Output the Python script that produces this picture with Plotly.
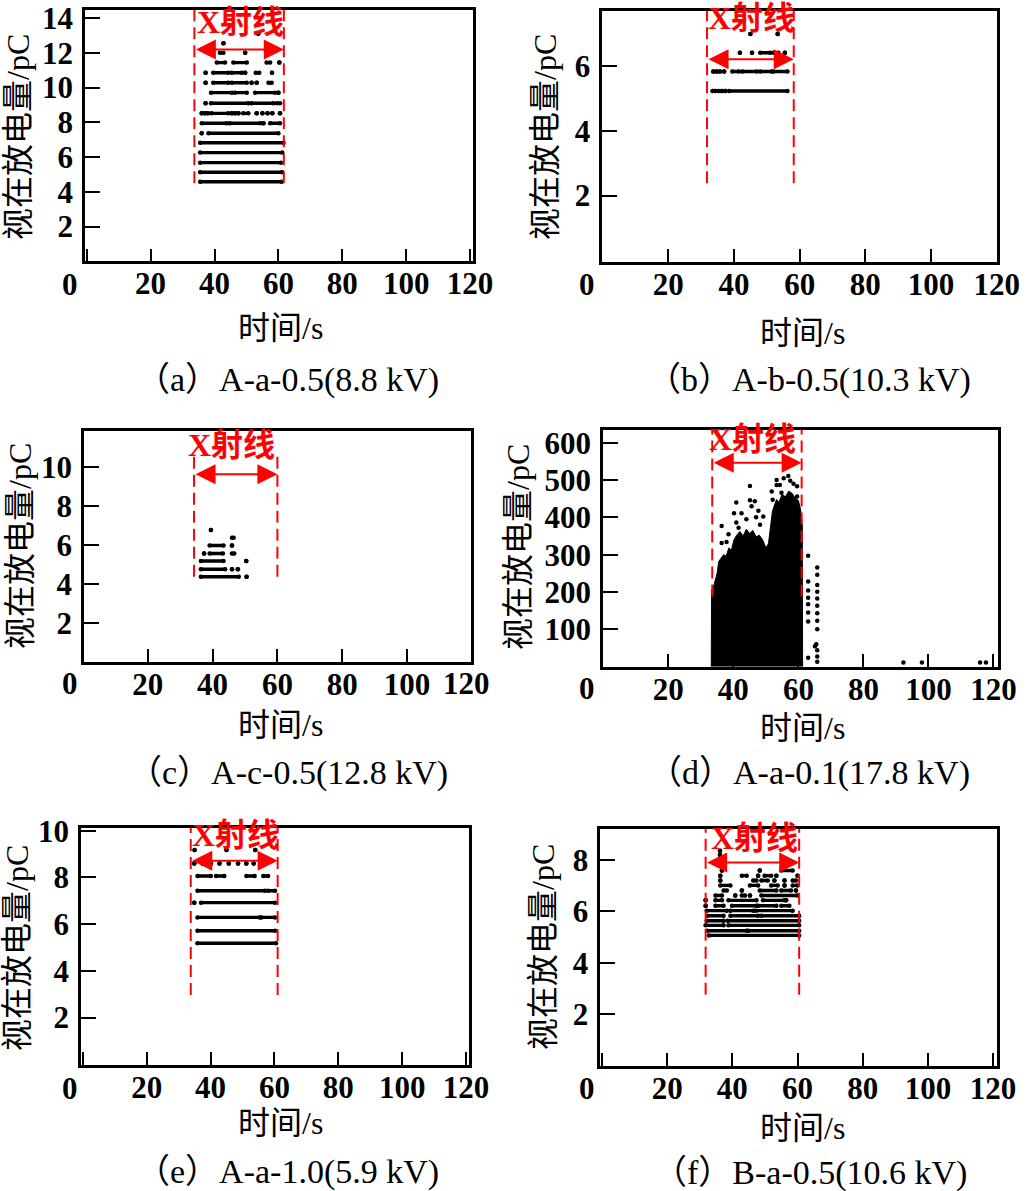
import plotly.graph_objects as go

W, H = 1031, 1191

# ---------------- data ----------------
x_ticks = [0, 20, 40, 60, 80, 100, 120]
x_tick_labels = ["", "20", "40", "60", "80", "100", "120"]

# (a) A-a-0.5(8.8 kV): discharge levels (pC) and time spans (s) at each level
a_levels = [4.58, 5.13, 5.68, 6.26, 6.83, 7.37, 7.95, 8.52, 9.10, 9.71, 10.28, 10.86, 11.44, 12.01, 12.55, 13.10]
a_spans = [
    [[35.5, 61.0]],
    [[35.5, 61.2]],
    [[35.5, 60.8]],
    [[35.5, 61.2]],
    [[35.5, 61.6]],
    [[36.0, 36.0], [38.1, 60.0]],
    [[36.0, 43.8], [44.8, 54.3], [55.3, 55.3], [57.4, 60.5]],
    [[36.0, 36.0], [37.0, 37.0], [37.9, 37.9], [39.1, 44.3], [45.4, 45.4], [46.4, 46.4], [47.5, 47.5],
     [49.0, 50.6], [53.2, 53.2], [55.0, 55.0], [56.6, 56.6], [58.1, 58.1], [60.5, 60.5]],
    [[37.2, 37.2], [38.9, 50.6], [51.6, 58.4], [59.5, 60.5]],
    [[38.9, 45.4], [46.4, 50.1], [52.7, 58.9], [60.0, 60.0]],
    [[37.2, 37.2], [39.6, 44.3], [45.4, 50.1], [51.6, 51.6], [53.2, 53.2], [56.9, 57.9]],
    [[37.2, 37.2], [39.6, 44.3], [45.4, 48.5], [49.6, 49.6], [52.9, 54.0], [58.0, 58.0]],
    [[40.7, 43.3], [45.9, 50.1], [56.3, 57.4], [60.3, 60.3]],
    [[41.7, 42.8], [49.6, 49.6]],
    [[42.8, 42.8]],
    [[53.7, 53.7]],
]
a_yticks = [2, 4, 6, 8, 10, 12, 14]

# (b) A-b-0.5(10.3 kV)
b_levels = [5.23, 5.83, 6.41, 6.99]
b_spans = [
    [[33.5, 33.5], [34.3, 34.3], [35.3, 35.3], [36.3, 36.3], [37.3, 37.3], [38.5, 56.3]],
    [[33.7, 33.7], [34.7, 34.7], [35.7, 35.7], [37.0, 37.0], [39.5, 41.5], [42.5, 47.0], [48.0, 51.5], [52.0, 56.3]],
    [[41.8, 41.8], [45.5, 45.5], [48.0, 51.0], [52.0, 53.5], [55.5, 55.5]],
    [[45.0, 45.0], [53.3, 53.3]],
]
b_yticks = [2, 4, 6]

# (c) A-c-0.5(12.8 kV)
c_levels = [4.37, 4.76, 5.18, 5.57, 5.98, 6.38, 6.77]
c_spans = [
    [[36.4, 48.1], [50.5, 50.5]],
    [[36.4, 43.9], [46.0, 46.0], [47.8, 47.8]],
    [[36.4, 43.4], [50.4, 50.4]],
    [[37.4, 37.4], [39.1, 43.2], [46.0, 46.7]],
    [[39.1, 43.4], [46.0, 46.0]],
    [[46.0, 46.5]],
    [[39.5, 39.5]],
]
c_yticks = [2, 4, 6, 8, 10]

# (d) A-a-0.1(17.8 kV): outline of the dense pulse cloud, plus isolated pulses
d_cloud_t = [33.2, 33.3, 33.9, 34.5, 35.0, 35.5, 36.2, 37.0, 37.8, 38.6, 39.4, 40.2, 41.0, 42.0,
             43.0, 44.0, 45.0, 46.0, 47.0, 48.0, 49.0, 50.0, 50.8, 51.4, 52.0, 52.6, 53.3, 54.0,
             55.0, 56.0, 57.0, 58.0, 59.0, 60.0, 60.7, 61.2, 61.3]
d_cloud_v = [0, 205, 214, 232, 250, 282, 290, 300, 296, 318, 312, 340, 352, 362,
             350, 368, 357, 365, 348, 352, 340, 318, 330, 372, 415, 432, 448, 440,
             462, 455, 470, 465, 452, 445, 420, 380, 0]
d_pts_t = [45.1, 40.9, 45.1, 46.6, 45.6, 47.7, 40.2, 42.5, 49.2, 40.9, 36.4, 48.2, 41.6, 36.4, 37.9,
           53.3, 53.3, 54.3, 56.9, 55.5, 57.5, 58.5, 59.6, 51.8, 54.8, 52.1, 52.6, 59.6, 60.6, 38.5,
           44.0, 47.0,
           63.0, 63.0, 63.0, 63.0, 63.0, 63.0, 63.0, 63.0,
           65.8, 65.8, 65.8, 65.8, 65.8, 65.8, 65.8, 65.8, 65.8, 65.5, 65.8, 65.8, 65.8, 65.1,
           92.3, 98.0, 115.9, 117.7]
d_pts_v = [484, 440, 446, 443, 430, 418, 411, 411, 402, 386, 377, 380, 372, 331, 334,
           500, 487, 487, 511, 505, 498, 490, 483, 469, 466, 447, 407, 456, 359, 355,
           395, 400,
           297, 228, 204, 185, 167, 145, 121, 24,
           266, 246, 219, 201, 183, 163, 143, 123, 100, 60, 44, 27, 13, 55,
           11, 11, 11, 11]
d_yticks = [100, 200, 300, 400, 500, 600]

# (e) A-a-1.0(5.9 kV)
e_levels = [5.18, 5.72, 6.29, 6.92, 7.43, 8.06, 8.60, 9.17]
e_spans = [
    [[35.9, 60.5]],
    [[35.9, 60.2]],
    [[35.9, 55.4], [55.9, 60.2]],
    [[34.9, 34.9], [37.0, 60.2]],
    [[35.9, 57.0], [58.0, 60.2]],
    [[35.9, 40.1], [41.7, 44.3], [51.2, 53.8], [56.5, 58.0]],
    [[34.9, 34.9], [37.5, 37.5], [40.1, 40.1], [42.8, 42.8], [45.7, 45.7], [48.6, 48.6],
     [51.2, 51.2], [53.5, 53.5], [56.5, 56.5]],
    [[35.0, 35.0], [45.0, 45.0], [54.0, 54.0]],
]
e_yticks = [2, 4, 6, 8, 10]

# (f) B-a-0.5(10.6 kV)
f_levels = [5.07, 5.25, 5.46, 5.64, 5.83, 6.03, 6.22, 6.43, 6.62, 6.81, 7.01, 7.20, 7.39, 7.59, 7.78, 8.19, 8.36]
f_spans = [
    [[32.8, 60.5]],
    [[32.3, 44.4], [44.9, 60.5]],
    [[31.8, 37.3], [38.8, 60.5]],
    [[32.1, 37.3], [38.5, 60.5]],
    [[32.3, 37.3], [39.4, 47.9], [48.9, 60.5]],
    [[32.1, 38.3], [39.4, 46.4], [47.2, 58.5]],
    [[31.8, 31.8], [34.8, 37.3], [39.9, 47.4], [47.9, 53.5], [55.0, 57.5]],
    [[31.8, 31.8], [34.8, 36.8], [38.8, 47.4], [49.4, 55.9], [56.5, 56.5]],
    [[34.8, 36.8], [40.9, 40.9], [42.9, 43.9], [45.4, 45.4], [48.9, 60.0]],
    [[37.3, 38.3], [42.9, 42.9], [48.4, 53.5], [55.0, 58.0], [59.5, 59.5]],
    [[36.3, 39.4], [45.4, 47.9], [51.9, 53.9], [56.0, 56.0], [58.5, 60.0]],
    [[36.3, 36.3], [46.4, 47.4], [48.9, 50.9], [52.9, 52.9], [56.0, 56.0], [58.5, 59.5]],
    [[36.3, 36.3], [42.9, 44.4], [47.9, 47.9], [49.9, 51.9], [53.5, 53.5], [60.0, 60.0]],
    [[36.8, 36.8], [48.4, 48.4], [55.0, 58.5]],
    [[36.8, 36.8]],
    [[36.2, 36.2]],
    [[36.2, 36.2]],
]
f_yticks = [2, 4, 6, 8]

captions = ["（a）A-a-0.5(8.8 kV)", "（b）A-b-0.5(10.3 kV)", "（c）A-c-0.5(12.8 kV)",
            "（d）A-a-0.1(17.8 kV)", "（e）A-a-1.0(5.9 kV)", "（f）B-a-0.5(10.6 kV)"]
x_title = "时间/s"
y_title = "视在放电量/pC"
xray_label = "X射线"

# X-ray window: start, end (s), arrow level, label position, dashed-line extent
xray_start = [33.7, 31.8, 34.3, 33.5, 33.8, 31.8]
xray_end = [61.7, 58.2, 60.0, 61.0, 61.0, 60.5]
xray_arrow = [12.2, 6.21, 9.64, 546, 8.72, 7.9]
xray_text_t = [48.0, 45.3, 45.7, 46.0, 47.8, 46.9]
xray_text_v = [13.8, 7.47, 11.15, 611, 9.81, 8.84]
xray_bottom = [4.5, 2.38, 4.37, 188, 2.97, 2.77]
xray_top = [14.55, 7.75, 10.7, 640, 10.2, 9.25]

# ---------------- layout geometry (pixels) ----------------
boxes = [  # left, right, top, bottom
    (85, 473, 10, 261.3),
    (602.3, 997, 11, 261.7),
    (84, 471, 431, 661.7),
    (603, 998, 430, 666.7),
    (81, 469.3, 827.7, 1065),
    (600.3, 997, 829, 1066),
]
x_ranges = [[-0.53, 120.9], [-0.1, 120.1], [0.37, 119.7], [-0.1, 121.4], [-0.56, 121.0], [-0.52, 121.2]]
y_ranges = [[0, 14.47], [-0.04, 7.7], [0, 11.87], [0, 634], [-0.03, 10.13], [0, 9.2]]
ytitle_pos = [(18, 137), (545, 137), (20, 546), (518, 547), (17, 948), (543, 947)]
xtitle_pos = [(280, 328), (802, 333), (280, 725), (802, 728), (280, 1123), (802, 1128)]
caption_pos = [(287, 380), (809, 380), (288, 773), (809, 773), (287, 1172), (810, 1173)]
zero_pos = [(70, 285), (587, 285), (70, 683), (587, 688), (70, 1088), (587, 1088)]
extra_120_pos = (466, 683)   # panel (c) shows "120" just inside its right edge


def px(x):
    return x / W


def py(y):
    return 1 - y / H


SERIF = "Liberation Serif, 'Times New Roman', 'Noto Sans CJK SC', serif"
MIXED = "Liberation Serif, 'Noto Sans CJK SC', serif"

fig = go.Figure()


def level_trace(levels, spans, idx):
    xs, ys = [], []
    for lv, segs in zip(levels, spans):
        for t0, t1 in segs:
            xs += [t0, t1, None]
            ys += [lv, lv, None]
    sfx = "" if idx == 1 else str(idx)
    return go.Scatter(x=xs, y=ys, mode="lines+markers", xaxis="x" + sfx, yaxis="y" + sfx,
                      line=dict(color="black", width=3.4), marker=dict(color="black", size=4.5),
                      showlegend=False, hoverinfo="skip", connectgaps=False)


fig.add_trace(level_trace(a_levels, a_spans, 1))
fig.add_trace(level_trace(b_levels, b_spans, 2))
fig.add_trace(level_trace(c_levels, c_spans, 3))
fig.add_trace(go.Scatter(x=d_cloud_t, y=d_cloud_v, mode="lines", fill="toself", fillcolor="black",
                         line=dict(color="black", width=1), xaxis="x4", yaxis="y4",
                         showlegend=False, hoverinfo="skip"))
fig.add_trace(go.Scatter(x=d_pts_t, y=d_pts_v, mode="markers", marker=dict(color="black", size=4.5),
                         xaxis="x4", yaxis="y4", showlegend=False, hoverinfo="skip"))
fig.add_trace(level_trace(e_levels, e_spans, 5))
fig.add_trace(level_trace(f_levels, f_spans, 6))

yticks_all = [a_yticks, b_yticks, c_yticks, d_yticks, e_yticks, f_yticks]
layout = dict(width=W, height=H, margin=dict(l=0, r=0, t=0, b=0, autoexpand=False),
              paper_bgcolor="white", plot_bgcolor="white", showlegend=False)
shapes, annos = [], []
tickfont = dict(family=SERIF, size=31, color="black", weight="bold")

for i in range(6):
    n = i + 1
    sfx = "" if n == 1 else str(n)
    L, R, T, B = boxes[i]
    layout["xaxis" + sfx] = dict(
        domain=[px(L), px(R)], range=x_ranges[i], anchor="y" + sfx, automargin=False,
        tickmode="array", tickvals=x_ticks, ticktext=x_tick_labels,
        ticks="inside", ticklen=13, tickwidth=2, tickcolor="black",
        showline=True, linewidth=2.5, linecolor="black", mirror=True,
        showgrid=False, zeroline=False, tickfont=tickfont, ticklabelstandoff=-7)
    layout["yaxis" + sfx] = dict(
        domain=[py(B), py(T)], range=y_ranges[i], anchor="x" + sfx, automargin=False,
        tickmode="array", tickvals=yticks_all[i], ticktext=[str(v) for v in yticks_all[i]],
        ticks="inside", ticklen=15, tickwidth=2, tickcolor="black",
        showline=True, linewidth=2.5, linecolor="black", mirror=True,
        showgrid=False, zeroline=False, tickfont=tickfont, ticklabelstandoff=3)

    xr, yr = "x" + sfx, "y" + sfx
    for t in (xray_start[i], xray_end[i]):
        shapes.append(dict(type="line", xref=xr, yref=yr, x0=t, x1=t,
                           y0=xray_bottom[i], y1=xray_top[i], layer="above",
                           line=dict(color="red", width=2, dash="12px,6px")))
    annos.append(dict(xref=xr, yref=yr, x=xray_end[i], y=xray_arrow[i],
                      ax=xray_start[i], ay=xray_arrow[i], axref=xr, ayref=yr,
                      text="", showarrow=True, arrowhead=2, startarrowhead=2,
                      arrowside="end+start", arrowsize=2, startarrowsize=2,
                      arrowwidth=2, arrowcolor="red"))
    annos.append(dict(xref=xr, yref=yr, x=xray_text_t[i], y=xray_text_v[i], text=xray_label,
                      showarrow=False, xanchor="center", yanchor="middle",
                      font=dict(family=MIXED, size=32, color="red", weight="bold")))
    annos.append(dict(xref="paper", yref="paper", x=px(ytitle_pos[i][0]), y=py(ytitle_pos[i][1]),
                      text=y_title, textangle=-90, showarrow=False, xanchor="center", yanchor="middle",
                      font=dict(family=MIXED, size=32, color="black")))
    annos.append(dict(xref="paper", yref="paper", x=px(xtitle_pos[i][0]), y=py(xtitle_pos[i][1]),
                      text=x_title, showarrow=False, xanchor="center", yanchor="middle",
                      font=dict(family=MIXED, size=32, color="black")))
    annos.append(dict(xref="paper", yref="paper", x=px(caption_pos[i][0]), y=py(caption_pos[i][1]),
                      text=captions[i], showarrow=False, xanchor="center", yanchor="middle",
                      font=dict(family=MIXED, size=34, color="black")))
    annos.append(dict(xref="paper", yref="paper", x=px(zero_pos[i][0]), y=py(zero_pos[i][1]),
                      text="0", showarrow=False, xanchor="center", yanchor="middle",
                      font=tickfont))

annos.append(dict(xref="paper", yref="paper", x=px(extra_120_pos[0]), y=py(extra_120_pos[1]),
                  text="120", showarrow=False, xanchor="center", yanchor="middle", font=tickfont))

layout["shapes"] = shapes
layout["annotations"] = annos
fig.update_layout(**layout)

post = ("var d=document.getElementById('{plot_id}');"
        "document.documentElement.style.margin='0';document.body.style.margin='0';"
        "document.body.style.padding='0';document.documentElement.style.overflow='hidden';"
        "document.body.style.overflow='hidden';"
        "d.style.position='absolute';d.style.left='0px';d.style.top='0px';")
fig.write_html("out.html", post_script=post, config={"displayModeBar": False})
